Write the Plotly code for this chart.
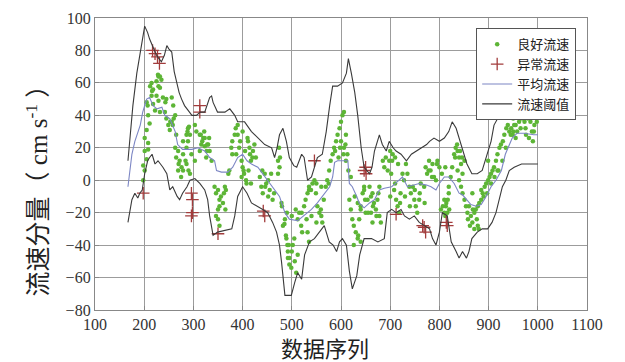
import plotly.graph_objects as go

# ---------------- data ----------------
good_pts = [
    (229,64),(225,61),(229,58),(218,56),(232,57),(215,52),(225,52),(238,51),(218,47),(229,49),
    (222,43),(232,42),(208,40),(211,35),(205,31),(201,26),(208,23),(201,18),(205,13),(198,9),
    (201,6),(198,0),(208,19),(256,51),(259,46),(242,42),(245,38),(249,34),(256,36),(252,31),
    (263,40),(265,28),(263,20),(269,18),(265,14),(272,12),(269,6),(279,6),(275,2),(279,16),
    (286,20),(289,24),(286,28),(289,32),(303,34),(306,30),(313,28),(320,26),(316,22),(323,21),
    (327,18),(313,18),(296,16),(303,12),(286,10),(293,4),(279,24),
    (323,26),(330,22),(333,18),(326,14),(337,12),(343,-4),(346,-8),(353,-12),(350,-18),(353,-16),
    (350,-24),(353,-28),(346,-22),(364,-4),(366,-6),(362,-8),(371,4),(373,6),(377,20),(379,24),
    (384,28),(386,32),(390,34),(379,16),(387,16),(393,20),(398,12),(400,8),(398,2),(402,6),
    (411,24),(414,20),(421,18),(424,22),(417,12),(427,14),(407,0),(417,-2),(435,2),(438,-4),
    (441,-8),(448,-2),(455,-6),(452,-10),(461,-12),(464,-8),(472,12),(475,8),(472,4),(479,-14),
    (486,-24),(482,-28),(489,-36),(491,-40),(492,-48),(495,-52),(445,4),
    (485,-27),(488,-34),(492,-44),(495,-48),(499,-54),(502,-40),(506,-50),(509,-57),(512,-24),(515,-20),
    (519,-28),(521,-32),(525,-16),(528,-12),(532,-8),(535,-4),(539,-6),(542,-2),(546,0),(549,-8),
    (552,-16),(556,-20),(559,-18),(562,-26),(565,-12),(569,-4),(572,0),(576,6),(579,12),(583,16),
    (586,20),(590,24),(593,28),(597,32),(600,36),(603,40),(606,42),(600,24),(606,20),(610,28),
    (610,12),(613,16),(617,-12),(620,-18),(623,-24),(626,-28),(630,-32),(634,-36),(626,-40),(637,-24),
    (640,-16),(644,-8),(647,-4),(650,-20),(654,-12),(532,-32),(535,-38),
    (647,-6),(649,-12),(658,-4),(661,-10),(664,-8),(667,-14),(674,-12),(661,-20),(671,-18),(678,-22),
    (681,-26),(664,-26),(678,-4),(685,12),(688,8),(691,14),(695,6),(698,12),(702,4),(705,16),
    (708,-6),(712,-12),(715,-16),(718,-20),(721,-8),(725,4),(728,0),(732,10),(735,4),(739,-4),
    (742,-8),(746,-4),(749,-12),(752,-16),(755,-20),(759,-12),(762,-2),(769,-4),(772,8),(775,4),
    (779,12),(782,6),(786,10),(789,2),(793,0),(796,12),(800,8),(807,-16),(810,-20),(814,-14),
    (817,-12),(810,-12),(813,-16),(816,-20),(819,-4),(819,-8),(823,2),(826,8),(830,16),(833,20),
    (837,18),(840,14),(844,10),(837,6),(847,4),(840,0),(844,-4),(847,-8),(851,-12),(854,-16),
    (857,-20),(860,-16),(864,-22),(867,-26),(871,-30),(871,-20),(874,-18),(878,-16),(881,-14),(885,-12),
    (888,-8),(892,-4),(895,-2),(899,0),(902,2),(905,4),(908,6),(911,8),(915,12),(918,16),
    (922,20),(925,22),(929,24),(932,28),(936,32),(939,34),(942,30),(946,32),(949,28),(952,34),
    (955,26),(958,30),(965,32),(973,36),(980,38),(976,28),(851,12),(878,-28),(867,-8),(899,12),
    (918,6),(986,41),(996,40),(993,34),(988,30),(982,26),(990,24),(950,38),(960,40),
    # denser parts of the clusters
    (212,58),(215,60),(216,55),(228,65),(232,64),(235,62),(205,48),(207,46),(243,48),(245,50),
    (253,36),(258,34),(260,38),(288,30),(291,33),(293,28),(315,28),(318,24),(322,30),(328,22),
    (332,26),(390,28),(395,24),(400,30),(405,18),(410,26),(415,16),(420,14),(474,20),(476,14),
    (588,18),(595,14),(598,20),(605,16),(609,22),
    (270,10),(276,8),(284,12),(290,6),(350,-6),(356,-10),(360,-14),(365,-18),(403,4),(408,-2),
    (412,6),(440,6),(446,-4),(452,0),(458,4),(480,-16),(490,-20),(500,-22),(508,-18),(494,-40),
    (500,-44),(505,-36),(512,-46),(520,-20),(530,-24),(540,-22),(550,-26),(560,-22),(535,-6),(550,-2),
    (560,-4),(575,-2),
    (615,6),(620,2),(628,-10),(634,-14),(640,-18),(655,-20),(665,-16),(672,-22),(676,-8),(635,-34),
    (640,-38),(700,-10),(710,-2),(720,-14),(730,-10),(740,-16),(750,-6),(760,-8),(770,-14),(778,6),
    (785,2),(795,10),(805,4),(812,8),(803,-18),(812,-22),(820,-18),(858,-24),(862,-28),(868,-18),
    (876,-24),(880,-30),(885,-6),(890,-10),(897,-8),(905,-2),(912,2),(920,6),(928,12),(935,20),
    (945,28),(950,30),(955,34),(962,36),(968,38),(975,32),(985,36),(992,30),(998,36),
    (700,18),(704,12),(710,14),(716,10),(832,14),(836,22),(842,18),(846,14),
]
bad_pts = [
    (217,80),(222,78),(227,76),(231,72),(198,-8),(313,46),(313,42),(296,-8),(298,-12),(296,-22),
    (298,-20),(350,-33),(442,-19),(445,-22),(546,12),(647,6),(650,8),(651,4),(712,-21),(769,-29),
    (772,-32),(766,-28),(814,-26),(816,-28),
]
mean_pts = [
    (167,-4),(175,16),(181,24),(192,34),(197,42),(205,50),(211,51),(218,46),(226,44),(236,45),
    (242,40),(252,38),(263,30),(268,22),(278,19),(297,19),(309,20),(323,18),(333,14),(343,12),
    (347,6),(357,5),(370,5),(380,8),(390,14),(400,16),(409,12),(418,10),(431,8),(441,4),
    (450,0),(465,-6),(475,-10),(486,-20),(495,-24),(512,-25),(525,-22),(540,-18),(552,-14),(566,-8),
    (577,-4),(583,2),(587,11),(593,12),(607,12),(614,12),(617,-2),(623,-4),(632,-10),(637,-14),
    (647,-17),(658,-14),(668,-12),(678,-6),(688,-5),(703,-4),(714,-1),(725,2),(735,-4),(749,-3),
    (759,-2),(774,-3),(783,-4),(793,-6),(800,-2),(810,2),(819,2),(830,-2),(840,-8),(847,-9),
    (856,-12),(864,-15),(875,-16),(885,-15),(895,-10),(905,-4),(915,0),(926,6),(934,16),(940,20),
    (948,26),(958,29),(972,29),(992,28),(1000,28),
]
upper_pts = [
    (167,12),(172,28),(177,46),(185,66),(192,79),(197,87),(201,95),(204,93),(207,91),(211,87),
    (216,83),(221,80),(225,77),(230,75),(235,73),(241,77),(246,83),(250,81),(256,79),(261,67),
    (266,60),(271,54),(276,50),(282,46),(287,44),(297,40),(306,40),(314,42),(323,42),(333,51),
    (337,52),(340,48),(349,42),(364,42),(374,44),(384,40),(390,36),(404,36),(418,30),(431,26),
    (445,22),(459,20),(465,14),(470,20),(475,28),(482,32),(489,24),(495,14),(499,12),(504,9),
    (510,8),(515,12),(520,16),(525,14),(532,0),(540,2),(546,8),(552,14),(562,16),(570,30),
    (577,46),(583,58),(593,58),(603,60),(611,66),(615,75),(621,66),(628,54),(634,40),(641,20),
    (647,8),(658,4),(663,8),(668,18),(678,28),(684,22),(692,18),(698,24),(706,20),(712,18),
    (722,16),(733,12),(743,16),(753,18),(763,20),(774,22),(780,24),(789,26),(800,24),(810,26),
    (819,30),(826,36),(834,32),(840,26),(847,20),(856,10),(866,4),(877,4),(887,6),(895,14),
    (905,24),(911,34),(922,40),(928,48),(934,52),(938,50),(942,46),(949,44),(956,46),(967,47),
    (980,47),(1000,47),
]
lower_pts = [
    (167,-26),(171,-18),(175,-12),(181,-8),(187,-11),(191,-8),(196,-6),(201,4),(207,12),(211,14),
    (216,16),(222,10),(228,12),(233,10),(238,8),(246,4),(252,-6),(258,-4),(263,-8),(267,-10),
    (272,-12),(278,-8),(287,-4),(293,0),(303,1),(313,-2),(323,-6),(329,-12),(333,-22),(340,-34),
    (349,-32),(364,-31),(378,-30),(384,-22),(390,-10),(400,-4),(409,-8),(418,-14),(431,-16),(441,-18),
    (451,-20),(461,-26),(469,-32),(475,-40),(479,-50),(482,-60),(486,-71),(495,-71),(499,-71),(506,-63),
    (512,-57),(516,-59),(520,-61),(526,-46),(536,-38),(546,-36),(561,-30),(566,-28),(572,-34),(576,-38),
    (584,-40),(591,-44),(597,-38),(603,-36),(611,-40),(617,-56),(623,-67),(632,-59),(638,-46),(647,-36),
    (662,-36),(675,-38),(688,-36),(694,-20),(703,-18),(712,-20),(722,-18),(729,-22),(739,-24),(749,-22),
    (759,-26),(769,-28),(780,-30),(786,-36),(793,-40),(800,-32),(806,-20),(816,-22),(821,-32),(824,-38),
    (834,-44),(840,-48),(847,-44),(855,-48),(860,-44),(866,-36),(877,-32),(887,-30),(898,-30),(907,-26),
    (915,-20),(922,-12),(928,-4),(935,0),(942,6),(952,8),(967,10),(1000,10),
]
x_ticks = [100, 200, 300, 400, 500, 600, 700, 800, 900, 1000, 1100]
y_ticks = [-80, -60, -40, -20, 0, 20, 40, 60, 80, 100]

good_x = [p[0] for p in good_pts]; good_y = [p[1] for p in good_pts]
bad_x = [p[0] for p in bad_pts]; bad_y = [p[1] for p in bad_pts]
mean_x = [p[0] for p in mean_pts]; mean_y = [p[1] for p in mean_pts]
up_x = [p[0] for p in upper_pts]; up_y = [p[1] for p in upper_pts]
lo_x = [p[0] for p in lower_pts]; lo_y = [p[1] for p in lower_pts]

NUMFONT = "Liberation Serif"
CJKFONT = "Liberation Serif, Noto Sans CJK SC"

fig = go.Figure()
fig.add_trace(go.Scatter(x=good_x, y=good_y, mode="markers", name="良好流速",
                         marker=dict(size=4.5, color="#5db536")))
fig.add_trace(go.Scatter(x=bad_x, y=bad_y, mode="markers", name="异常流速",
                         marker=dict(symbol="cross-thin", size=9, color="#a23c3c",
                                     line=dict(color="#a23c3c", width=1.3))))
fig.add_trace(go.Scatter(x=mean_x, y=mean_y, mode="lines", name="平均流速",
                         line=dict(color="#7c86c4", width=1.1)))
fig.add_trace(go.Scatter(x=up_x, y=up_y, mode="lines", name="流速阈值", legendgroup="thr",
                         line=dict(color="#3a3a3a", width=1.1)))
fig.add_trace(go.Scatter(x=lo_x, y=lo_y, mode="lines", name="流速阈值", legendgroup="thr",
                         showlegend=False, line=dict(color="#3a3a3a", width=1.1)))

axis_common = dict(showgrid=True, gridcolor="#9c9c9c", gridwidth=1.3,
                   zeroline=False, showline=True, linecolor="#888888", linewidth=1.3,
                   mirror=True, ticks="inside", ticklen=4, tickcolor="#888888",
                   tickfont=dict(family=NUMFONT, size=16, color="#333"))

fig.update_xaxes(range=[100, 1100], tickvals=x_ticks, **axis_common)
fig.update_yaxes(range=[-80, 100], tickvals=y_ticks, **axis_common)

fig.update_layout(
    width=625, height=362,
    margin=dict(l=95, r=38, t=10, b=52),
    plot_bgcolor="white", paper_bgcolor="white",
    showlegend=True,
    legend=dict(x=0.978, y=0.965, xanchor="right", yanchor="top",
                bgcolor="white", bordercolor="#555", borderwidth=1,
                font=dict(family=CJKFONT, size=13, color="#222"),
                tracegroupgap=0, itemwidth=30),
    annotations=[
        dict(text="数据序列", xref="paper", yref="paper", x=0.4675, y=-0.085,
             xanchor="center", yanchor="top", showarrow=False,
             font=dict(family=CJKFONT, size=22, color="#222")),
        dict(text="流速分量（ cm s<sup>-1</sup> ）", xref="paper", yref="paper",
             x=-0.118, y=0.43, xanchor="center", yanchor="middle", textangle=-90,
             showarrow=False, font=dict(family=CJKFONT, size=25, color="#222")),
    ],
)

fig.write_html("out.html", config={"displayModeBar": False},
               post_script="document.body.style.margin='0';")
